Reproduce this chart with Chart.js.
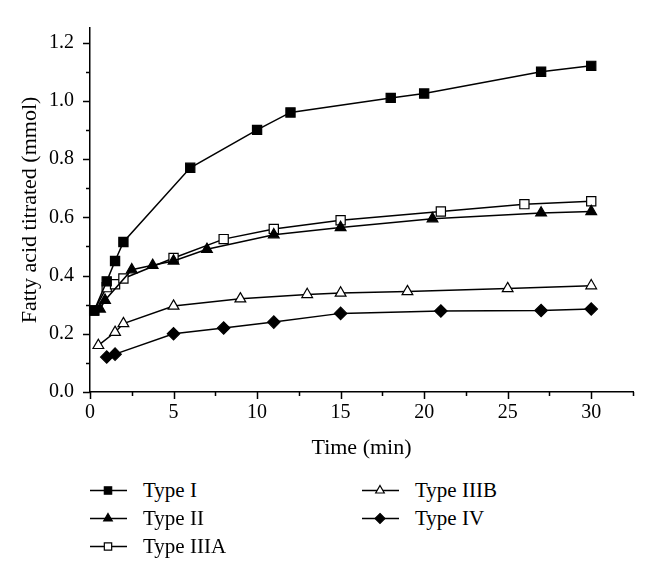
<!DOCTYPE html>
<html>
<head>
<meta charset="utf-8">
<script src="https://cdn.jsdelivr.net/npm/chart.js@4/dist/chart.umd.min.js"></script>
<style>
  body { margin: 0; background: #fff; }
  #pagina { position: relative; width: 648px; height: 571px; background: #fff; }
  #grafico { position: absolute; left: 0; top: 0; }
  .itemLegenda { position: absolute; height: 24px; display: flex; align-items: center; }
  .itemLegenda span { font-family: "Liberation Serif", "DejaVu Serif", serif; font-size: 21px; color: #000; margin-left: 15px; }
</style>
</head>
<body>
<div id="pagina">
  <canvas id="grafico" width="648" height="470"></canvas>
  <div id="legenda"></div>
</div>
<script>
var nomesSeries = ["Type I", "Type II", "Type IIIA", "Type IIIB", "Type IV"];

var tipoIx = [0.25, 1, 1.5, 2, 6, 10, 12, 18, 20, 27, 30];
var tipoIy = [0.28, 0.38, 0.45, 0.515, 0.77, 0.90, 0.96, 1.01, 1.025, 1.10, 1.12];

var tipoIIx = [0.6, 0.9, 2.5, 3.75, 5, 7, 11, 15, 20.5, 27, 30];
var tipoIIy = [0.285, 0.315, 0.42, 0.435, 0.45, 0.49, 0.54, 0.565, 0.595, 0.615, 0.62];

var tipoIIIAx = [0.25, 1, 1.5, 2, 5, 8, 11, 15, 21, 26, 30];
var tipoIIIAy = [0.28, 0.36, 0.37, 0.39, 0.46, 0.525, 0.56, 0.59, 0.62, 0.645, 0.655];

var tipoIIIBx = [0.5, 1.5, 2, 5, 9, 13, 15, 19, 25, 30];
var tipoIIIBy = [0.16, 0.205, 0.235, 0.295, 0.32, 0.335, 0.34, 0.345, 0.355, 0.365];

var tipoIVx = [1, 1.5, 5, 8, 11, 15, 21, 27, 30];
var tipoIVy = [0.12, 0.13, 0.20, 0.22, 0.24, 0.27, 0.278, 0.28, 0.285];

var ticksX = [0, 5, 10, 15, 20, 25, 30];
var ticksY = [0, 0.2, 0.4, 0.6, 0.8, 1.0, 1.2];

var fonteSerif = "'Liberation Serif', 'DejaVu Serif', serif";

function juntarPontos(xs, ys) {
  var pontos = [];
  for (var i = 0; i < xs.length; i++) {
    pontos.push({ x: xs[i], y: ys[i] });
  }
  return pontos;
}

// estilo de cada serie: simbolo, preenchimento, raio
var estilos = [
  { simbolo: "rect", fundo: "#000", raio: 6.5 },
  { simbolo: "triangle", fundo: "#000", raio: 6.2 },
  { simbolo: "rect", fundo: "#fff", raio: 6.5 },
  { simbolo: "triangle", fundo: "#fff", raio: 6.2 },
  { simbolo: "rectRot", fundo: "#000", raio: 6.2 }
];

var dadosSeries = [
  juntarPontos(tipoIx, tipoIy),
  juntarPontos(tipoIIx, tipoIIy),
  juntarPontos(tipoIIIAx, tipoIIIAy),
  juntarPontos(tipoIIIBx, tipoIIIBy),
  juntarPontos(tipoIVx, tipoIVy)
];

var conjuntos = [];
for (var i = 0; i < dadosSeries.length; i++) {
  conjuntos.push({
    label: nomesSeries[i],
    data: dadosSeries[i],
    borderColor: "#000",
    borderWidth: 1.5,
    pointStyle: estilos[i].simbolo,
    pointRadius: estilos[i].raio,
    pointBackgroundColor: estilos[i].fundo,
    pointBorderColor: "#000",
    pointBorderWidth: 1.2,
    tension: 0,
    clip: false
  });
}

// marcas de escala (maiores e menores) desenhadas para fora
var pluginMarcas = {
  id: "marcas",
  afterDraw: function (chart) {
    var ctx = chart.ctx;
    var sx = chart.scales.x;
    var sy = chart.scales.y;
    var area = chart.chartArea;
    ctx.save();
    ctx.strokeStyle = "#000";
    ctx.lineWidth = 1.5;
    ctx.beginPath();
    for (var v = 0; v <= 32.5 + 0.001; v += 2.5) {
      var px = Math.round(sx.getPixelForValue(v)) + 0.5;
      var maior = Math.abs(v % 5) < 0.001;
      ctx.moveTo(px, area.bottom);
      ctx.lineTo(px, area.bottom + (maior ? 7 : 4));
    }
    for (var k = 0; k <= 12; k++) {
      var py = Math.round(sy.getPixelForValue(k / 10)) + 0.5;
      var maiorY = k % 2 == 0;
      ctx.moveTo(area.left, py);
      ctx.lineTo(area.left - (maiorY ? 7 : 4), py);
    }
    ctx.stroke();
    ctx.restore();
  }
};

new Chart(grafico.getContext("2d"), {
  type: "line",
  data: { datasets: conjuntos },
  options: {
    responsive: false,
    animation: false,
    devicePixelRatio: 1,
    layout: { padding: { left: 0, right: 15, top: 13, bottom: 0 } },
    plugins: {
      legend: { display: false },
      tooltip: { enabled: false }
    },
    scales: {
      x: {
        type: "linear",
        min: 0,
        max: 32.5,
        bounds: "data",
        afterFit: function (escala) { escala.height = 78; },
        afterBuildTicks: function (escala) {
          escala.ticks = ticksX.map(function (v) { return { value: v }; });
        },
        grid: { display: false, drawTicks: false },
        border: { display: true, color: "#000", width: 1.5 },
        ticks: {
          color: "#000",
          padding: 9,
          maxRotation: 0,
          autoSkip: false,
          font: { family: fonteSerif, size: 20 }
        },
        title: {
          display: true,
          text: "Time (min)",
          color: "#000",
          font: { family: fonteSerif, size: 22 },
          padding: { top: 0, bottom: 9 }
        }
      },
      y: {
        type: "linear",
        min: 0,
        max: 1.25,
        bounds: "data",
        afterFit: function (escala) { escala.width = 90; },
        afterBuildTicks: function (escala) {
          escala.ticks = ticksY.map(function (v) { return { value: v }; });
        },
        grid: { display: false, drawTicks: false },
        border: { display: true, color: "#000", width: 1.5 },
        ticks: {
          color: "#000",
          padding: 16,
          autoSkip: false,
          font: { family: fonteSerif, size: 20 },
          callback: function (v) { return Number(v).toFixed(1); }
        },
        title: {
          display: true,
          text: "Fatty acid titrated (mmol)",
          color: "#000",
          font: { family: fonteSerif, size: 22 },
          padding: { top: 17, bottom: 0 }
        }
      }
    }
  },
  plugins: [pluginMarcas]
});

// legenda em duas colunas
function desenharSimbolo(ctx, estilo, cx, cy, r) {
  ctx.fillStyle = estilo.fundo;
  ctx.strokeStyle = "#000";
  ctx.lineWidth = 1.2;
  ctx.beginPath();
  if (estilo.simbolo == "rect") {
    var s = r * Math.SQRT1_2;
    ctx.rect(cx - s, cy - s, 2 * s, 2 * s);
  } else if (estilo.simbolo == "triangle") {
    ctx.moveTo(cx, cy - r);
    ctx.lineTo(cx + r * Math.sin(Math.PI * 2 / 3), cy + r / 2);
    ctx.lineTo(cx - r * Math.sin(Math.PI * 2 / 3), cy + r / 2);
    ctx.closePath();
  } else {
    ctx.moveTo(cx, cy - r);
    ctx.lineTo(cx + r, cy);
    ctx.lineTo(cx, cy + r);
    ctx.lineTo(cx - r, cy);
    ctx.closePath();
  }
  ctx.fill();
  ctx.stroke();
}

var posLegenda = [
  { x: 88, y: 490 }, { x: 88, y: 518 }, { x: 88, y: 546 },
  { x: 360, y: 490 }, { x: 360, y: 518 }
];

for (var j = 0; j < nomesSeries.length; j++) {
  var item = document.createElement("div");
  item.className = "itemLegenda";
  item.style.left = posLegenda[j].x + "px";
  item.style.top = (posLegenda[j].y - 12) + "px";
  var tela = document.createElement("canvas");
  tela.width = 40;
  tela.height = 24;
  var c = tela.getContext("2d");
  c.strokeStyle = "#000";
  c.lineWidth = 1.5;
  c.beginPath();
  c.moveTo(2, 12.5);
  c.lineTo(39, 12.5);
  c.stroke();
  desenharSimbolo(c, estilos[j], 20, 12.5, estilos[j].raio * 0.8);
  item.appendChild(tela);
  var texto = document.createElement("span");
  texto.textContent = nomesSeries[j];
  item.appendChild(texto);
  legenda.appendChild(item);
}
</script>
</body>
</html>
